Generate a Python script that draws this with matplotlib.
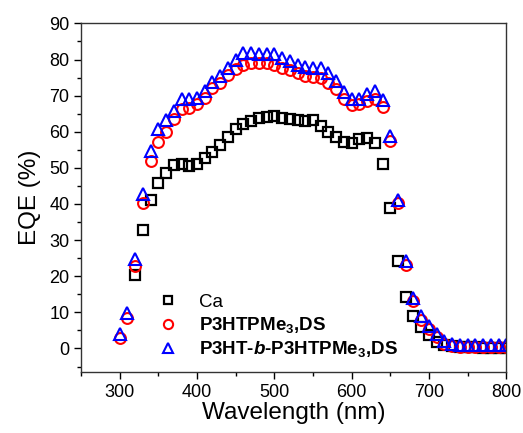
import matplotlib
matplotlib.use("Agg")
import matplotlib.pyplot as plt
from matplotlib.ticker import MultipleLocator

plt.rcParams['font.family'] = ['Liberation Sans', 'DejaVu Sans']
plt.rcParams['mathtext.default'] = 'regular'
plt.rcParams['mathtext.fontset'] = 'custom'
plt.rcParams['mathtext.bfit'] = 'Liberation Sans:italic:bold'

nan = float('nan')
wavelength = list(range(300, 801, 10))

eqe_ca = [nan, nan, 20.3, 32.7, 41.0, 45.8, 48.5, 50.9, 51.1, 50.5,
          51.1, 52.7, 54.5, 56.3, 58.6, 60.7, 62.1, 63.0, 63.7, 64.2,
          64.4, 63.8, 63.5, 63.3, 63.0, 63.2, 61.7, 60.0, 58.6, 57.1,
          56.8, 58.0, 58.4, 56.8, 51.2, 38.9, 24.2, 14.3, 8.9, 6.0,
          3.8, 1.8, 1.0, 0.6, 0.4, 0.3, 0.3, 0.2, 0.2, 0.2, 0.2]

eqe_ds = [2.8, 8.5, 22.8, 40.3, 51.8, 57.1, 59.8, 63.5, 66.4, 66.7,
          67.6, 69.4, 72.0, 73.6, 75.7, 77.4, 78.6, 78.9, 79.0, 79.0,
          78.6, 77.7, 77.0, 76.3, 75.4, 75.1, 74.8, 73.6, 71.7, 69.0,
          67.4, 67.6, 68.5, 69.0, 66.8, 57.4, 40.3, 23.2, 13.2, 8.0,
          5.4, 3.2, 1.3, 0.6, 0.4, 0.3, 0.3, 0.3, 0.3, 0.3, 0.3]

eqe_block = [3.9, 9.7, 24.8, 42.7, 54.8, 60.7, 63.2, 65.8, 69.0, 69.2,
             69.4, 71.3, 73.8, 75.4, 77.7, 80.0, 81.7, 81.8, 81.6, 81.6,
             81.4, 80.5, 79.7, 78.6, 77.9, 77.7, 77.7, 76.3, 74.0, 71.1,
             69.2, 69.2, 70.5, 71.3, 68.7, 58.9, 41.2, 24.2, 13.9, 8.9,
             6.1, 3.9, 2.0, 1.3, 1.0, 1.0, 0.9, 0.9, 0.9, 0.9, 0.9]

labels = ["Ca", "P3HTPMe$_3$,DS", r"P3HT-$\mathbfit{b}$-P3HTPMe$_3$,DS"]

fig = plt.figure(figsize=(5.23, 4.33), dpi=100)
ax = fig.add_axes([0.155, 0.141, 0.813, 0.805])

ax.plot(wavelength, eqe_ca, linestyle='none', marker='s', markersize=7.3,
        markerfacecolor='none', markeredgecolor='black', markeredgewidth=1.6,
        label=labels[0])
ax.plot(wavelength, eqe_ds, linestyle='none', marker='o', markersize=7.8,
        markerfacecolor='none', markeredgecolor='#ff0000', markeredgewidth=1.5,
        label=labels[1])
ax.plot(wavelength, eqe_block, linestyle='none', marker='^', markersize=8.3,
        markerfacecolor='none', markeredgecolor='#0000ff', markeredgewidth=1.5,
        label=labels[2])

ax.set_xlim(250, 800)
ax.set_ylim(-6.5, 90)
ax.xaxis.set_major_locator(MultipleLocator(100))
ax.xaxis.set_minor_locator(MultipleLocator(50))
ax.yaxis.set_major_locator(MultipleLocator(10))
ax.yaxis.set_minor_locator(MultipleLocator(5))
ax.tick_params(which='both', direction='out', top=False, right=False,
               labelsize=13, width=1)
ax.tick_params(which='major', length=5)
ax.tick_params(which='minor', length=3)
for s in ax.spines.values():
    s.set_linewidth(1.0)
    s.set_color('#333333')

ax.set_xlabel("Wavelength (nm)", fontsize=17.5, labelpad=1)
ax.set_ylabel("EQE (%)", fontsize=17.5, labelpad=6)

leg = ax.legend(loc='lower left', bbox_to_anchor=(0.143, -0.012), frameon=False,
                fontsize=13.5, handletextpad=1.15, labelspacing=0.22,
                handlelength=1.0, markerscale=0.85)
for i, t in enumerate(leg.get_texts()):
    if i > 0:
        t.set_fontweight('bold')

fig.savefig("out.png", dpi=100)
